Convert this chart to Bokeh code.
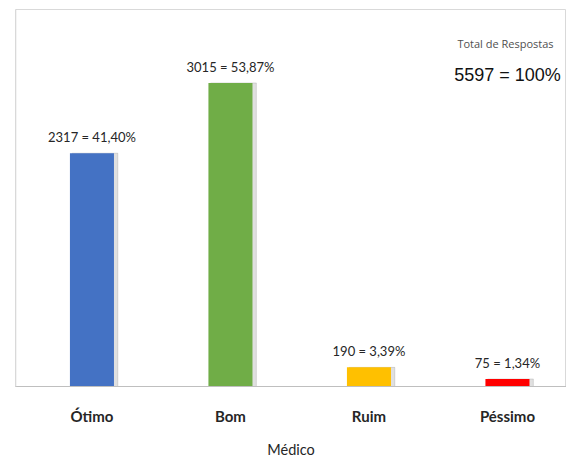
from bokeh.plotting import figure
from bokeh.models import ColumnDataSource, FixedTicker, Label, BoxAnnotation, Range1d
from bokeh.transform import dodge
from bokeh.embed import file_html
from bokeh.resources import INLINE

categories = ["Ótimo", "Bom", "Ruim", "Péssimo"]
values = [2317, 3015, 190, 75]
percent_labels = ["41,40%", "53,87%", "3,39%", "1,34%"]
colors = ["#4472C4", "#70AD47", "#FFC000", "#FF0000"]
axis_title = "Médico"
total_title = "Total de Respostas"
total_value = sum(values)

xpos = list(range(len(categories)))
labels = [f"{v} = {p}" for v, p in zip(values, percent_labels)]
src = ColumnDataSource(dict(x=xpos, v=values, c=colors, lab=labels))

W, H = 566, 460
LEFT, TOP, BOTTOM = 15, 9, 71
x_start = -0.552
p = figure(width=W, height=H, output_backend="svg", toolbar_location=None,
           x_range=Range1d(x_start, x_start + (W - LEFT) / 138.5),
           y_range=Range1d(0, 3744),
           min_border_left=LEFT, min_border_right=0, min_border_top=TOP,
           min_border_bottom=BOTTOM)
p.background_fill_color = "white"
p.border_fill_color = "white"
p.outline_line_color = "#D9D9D9"
p.xgrid.visible = False
p.ygrid.visible = False
p.yaxis.visible = False

# soft shadow on the right of each bar
p.vbar(x=dodge("x", 0.022), top="v", width=0.33, source=src, color="#000000", alpha=0.12)
p.vbar(x="x", top="v", width=0.318, source=src, fill_color="c", line_color=None)
p.text(x="x", y="v", text="lab", source=src, y_offset=-8, text_align="center",
       text_baseline="bottom", text_font_size="13px", text_color="#262626",
       text_font={"value": "Lato"})

ax = p.xaxis[0]
ax.ticker = FixedTicker(ticks=xpos)
ax.major_label_overrides = {i: c for i, c in zip(xpos, categories)}
ax.major_tick_line_color = None
ax.minor_tick_line_color = None
ax.axis_line_color = "#BFBFBF"
ax.major_label_text_font = "Lato"
ax.major_label_text_font_style = "bold"
ax.major_label_text_font_size = "15px"
ax.major_label_text_color = "#262626"
ax.major_label_standoff = 14
ax.axis_label = axis_title
ax.axis_label_text_font = "Lato"
ax.axis_label_text_font_style = "normal"
ax.axis_label_text_font_size = "14.5px"
ax.axis_label_text_color = "#262626"
ax.axis_label_standoff = 13

p.add_layout(Label(x=490, y=336, x_units="screen", y_units="screen", text=total_title,
                   text_font_size="11px", text_color="#505050", text_align="center",
                   text_font="Open Sans"))
p.add_layout(Label(x=492, y=302, x_units="screen", y_units="screen",
                   text=f"{total_value} = 100%", text_font_size="18px",
                   text_color="#111111", text_align="center", text_font="Liberation Sans"))

# edge of the neighbouring panel, outer box and the box around the category area
p.add_layout(BoxAnnotation(left=1, right=2, top=-10, bottom=H + 10,
                           left_units="canvas", right_units="canvas",
                           top_units="canvas", bottom_units="canvas",
                           fill_color="#E3E3E3", fill_alpha=1, line_color=None))
p.add_layout(BoxAnnotation(left=LEFT + 1, right=W + 40, top=TOP, bottom=H + 40,
                           left_units="canvas", right_units="canvas",
                           top_units="canvas", bottom_units="canvas",
                           fill_alpha=0, line_color="#D9D9D9", line_width=1))
p.add_layout(BoxAnnotation(left=LEFT + 7, right=W + 40, top=H - BOTTOM, bottom=H + 40,
                           left_units="canvas", right_units="canvas",
                           top_units="canvas", bottom_units="canvas",
                           fill_alpha=0, line_color="#BFBFBF", line_width=1))

open("out.html", "w").write(file_html(p, INLINE))
